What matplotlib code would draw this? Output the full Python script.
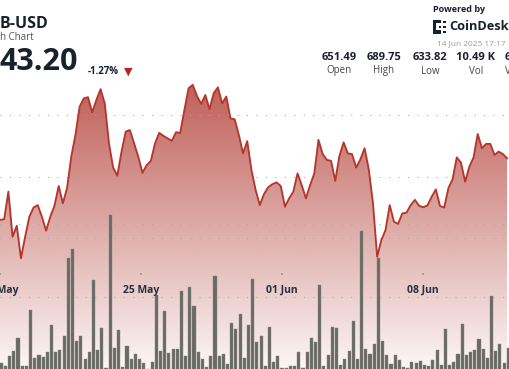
import numpy as np
import matplotlib
matplotlib.use("Agg")
import matplotlib.pyplot as plt
from matplotlib.patches import Rectangle
from matplotlib.transforms import blended_transform_factory

# ---------------- data ----------------
price = [
    645.9, 646.1, 655.1, 640.4, 644.0, 633.4, 640.4, 646.9, 649.9, 650.7,
    646.9, 642.4, 646.9, 650.5, 656.9, 651.3, 656.2, 666.4, 673.5, 682.7,
    685.4, 685.8, 680.9, 684.9, 688.4, 683.8, 670.8, 662.9, 660.3, 668.1,
    674.6, 675.1, 670.8, 666.4, 661.2, 663.7, 665.1, 670.8, 674.2, 673.2,
    672.4, 671.6, 674.4, 674.2, 681.6, 688.7, 689.8, 686.2, 683.6, 686.5,
    681.9, 687.1, 689.0, 683.8, 686.0, 678.9, 678.6, 673.5, 667.5, 671.5,
    662.1, 655.6, 650.7, 654.3, 656.5, 657.5, 658.1, 656.9, 650.2, 652.9,
    655.1, 661.0, 657.2, 652.9, 657.2, 661.0, 671.9, 667.3, 665.4, 665.1,
    658.6, 666.7, 671.1, 667.5, 667.3, 662.9, 665.6, 669.2, 662.3, 651.3,
    633.9, 639.3, 642.6, 650.7, 645.3, 644.6, 648.0, 648.2, 650.7, 652.4,
    650.5, 650.0, 650.6, 653.4, 655.8, 650.4, 649.9, 656.2, 659.1, 666.2,
    664.5, 658.3, 663.2, 666.2, 673.8, 669.2, 670.6, 670.6, 667.0, 668.1,
    667.3, 665.9,
]

volume = [
    1.74, 0.92, 0.59, 1.92, 2.60, 4.34, 0.59, 0.59, 8.22, 1.60,
    2.01, 1.74, 2.42, 6.12, 2.51, 2.74, 4.70, 15.38, 16.53, 4.01,
    4.70, 1.55, 2.47, 12.33, 2.74, 5.75, 0.27, 21.27, 3.05, 5.52,
    0.41, 3.29, 1.47, 2.15, 1.47, 0.92, 0.10, 1.05, 10.27, 2.60,
    8.04, 2.37, 2.88, 2.92, 10.78, 1.96, 11.41, 8.81, 2.51, 1.51,
    0.45, 1.96, 12.84, 1.96, 2.19, 0.82, 6.40, 5.58, 7.63, 1.60,
    6.12, 12.51, 3.77, 4.66, 0.51, 5.93, 1.05, 1.92, 0.34, 0.34,
    0.48, 0.59, 2.42, 0.27, 2.51, 4.42, 3.84, 11.64, 0.59, 2.05,
    5.85, 5.82, 0.62, 1.53, 2.63, 6.68, 1.44, 19.08, 2.90, 2.19,
    3.53, 15.38, 4.01, 2.01, 0.82, 2.01, 1.37, 0.45, 0.34, 1.14,
    0.92, 1.21, 0.66, 0.51, 1.37, 2.74, 0.68, 5.58, 0.64, 1.03,
    2.19, 6.34, 2.05, 2.47, 2.70, 4.25, 2.88, 1.64, 10.11, 2.60,
    3.56, 0.92, 2.95, 3.79,
]

date_labels = ["18 May", "25 May", "01 Jun", "08 Jun"]
price_grid = [640, 660, 680]
volume_grid = [10, 20]
stat_values = ["651.49", "689.75", "633.82", "10.49 K"]
stat_labels = ["Open", "High", "Low", "Vol"]

# ---------------- layout ----------------
W, H, DPI = 510, 369, 100
PTS_PER_WEEK = 33.65
FONT = ["Open Sans", "DejaVu Sans"]
DARK = "#18212e"

plt.rcParams["font.family"] = FONT

fig = plt.figure(figsize=(W / DPI, H / DPI), dpi=DPI)
fig.patch.set_facecolor("white")

ax = fig.add_axes([0, 0, 1, 1])
ax.set_axis_off()
xmin, xmax = 0, 121.7
pmin, pmax = 597.4, 717.4
ax.set_xlim(xmin, xmax)
ax.set_ylim(pmin, pmax)

x_price = np.arange(len(price))
x_vol = np.arange(len(volume)) - 1 + 0.3

# gradient fill under the price line
poly = ax.fill_between(x_price, price, pmin, facecolor="none", edgecolor="none")
n = 400
yy = np.linspace(pmin, pmax, n)
alpha = 0.05 + 0.84 * (yy - pmin) / (689.8 - pmin)
alpha = np.clip(alpha, 0, 0.95)
base = np.array([184, 76, 68]) / 255.0
img = np.zeros((n, 2, 4))
img[..., :3] = base
img[..., 3] = alpha[:, None]
im = ax.imshow(img, extent=[xmin, xmax, pmin, pmax], origin="lower",
               aspect="auto", interpolation="bilinear", zorder=1)
im.set_clip_path(poly.get_paths()[0], transform=ax.transData)

dot_style = dict(color="#a8a8a8", lw=0.75, linestyle=(0, (1, 8.1)), zorder=2)
for g in price_grid:
    ax.axhline(g, **dot_style)

# volume axis
axv = ax.twinx()
axv.set_axis_off()
axv.set_xlim(xmin, xmax)
axv.set_ylim(0.137, 50.68)
for g in volume_grid:
    axv.axhline(g, **dot_style)
axv.bar(x_vol, volume, width=0.74, color="#686a63", edgecolor="#878983",
        linewidth=0.3, zorder=3)

# line axis on top
axl = ax.twinx()
axl.set_axis_off()
axl.set_xlim(xmin, xmax)
axl.set_ylim(pmin, pmax)
axl.plot(x_price, price, color="#b5372c", lw=1.35, solid_joinstyle="round", zorder=5)

# date ticks (dots + labels)
tick_pos = [k * PTS_PER_WEEK for k in range(len(date_labels))]
bt = blended_transform_factory(axl.transData, axl.transAxes)
axl.scatter(tick_pos, [1 - 274 / H] * len(tick_pos), s=1.5, marker="s",
            color="#a0a0a0", transform=bt, zorder=6, linewidths=0)
for t, lab in zip(tick_pos, date_labels):
    axl.text(t, 1 - 290 / H, lab, transform=bt, ha="center", va="center",
             fontsize=7.5, fontweight="bold", color="#263040", zorder=7)


def fx(x):
    return x / W


def fy(y):
    return 1 - y / H


# header texts
fig.text(fx(0), fy(23.5), "B-USD", fontsize=11.5, fontweight="bold", color=DARK,
         ha="left", va="center")
fig.text(fx(0), fy(37), "h Chart", fontsize=7, color="#555555",
         ha="left", va="center")
fig.text(fx(-1), fy(62), "43.20", fontsize=22, fontweight="bold", color=DARK,
         ha="left", va="center")
fig.text(fx(88), fy(71.5), "-1.27%", fontsize=7, fontweight="bold", color=DARK,
         ha="left", va="center")
fig.text(fx(128), fy(72), "\u25BC", fontsize=8, color="#b3261e",
         ha="center", va="center", family=["DejaVu Sans"])

fig.text(fx(433), fy(10), "Powered by", fontsize=6.5, fontweight="bold",
         color=DARK, ha="left", va="center")
fig.text(fx(449), fy(26.5), "CoinDesk", fontsize=9.2, fontweight="bold",
         color=DARK, ha="left", va="center")
fig.text(fx(437), fy(43.5), "14 Jun 2025 17:17", fontsize=6.0, color="#9a9a9a",
         ha="left", va="center")

# logo (bracket of blocks)
def px_rect(x, y, w, h):
    fig.add_artist(Rectangle((fx(x), fy(y + h)), w / W, h / H,
                             transform=fig.transFigure, color=DARK, lw=0))

px_rect(433.5, 20, 3, 13.5)
px_rect(433.5, 20, 8, 3)
px_rect(433.5, 30.5, 8, 3)
px_rect(438.5, 25.5, 2.5, 2.5)
for yy_ in (20.5, 25.5, 30.5):
    px_rect(443.5, yy_, 2.5, 2.5)

stat_x = [339, 384, 430, 476]
for sx, v, l in zip(stat_x, stat_values, stat_labels):
    fig.text(fx(sx), fy(58), v, fontsize=8, fontweight="bold", color=DARK,
             ha="center", va="center")
    fig.text(fx(sx), fy(71), l, fontsize=7, color="#444444",
             ha="center", va="center")
fig.text(fx(504.5), fy(58), "6", fontsize=8, fontweight="bold", color=DARK,
         ha="left", va="center")
fig.text(fx(505), fy(71), "V", fontsize=7, color="#444444",
         ha="left", va="center")

fig.savefig("out.png", dpi=DPI, facecolor="white")
